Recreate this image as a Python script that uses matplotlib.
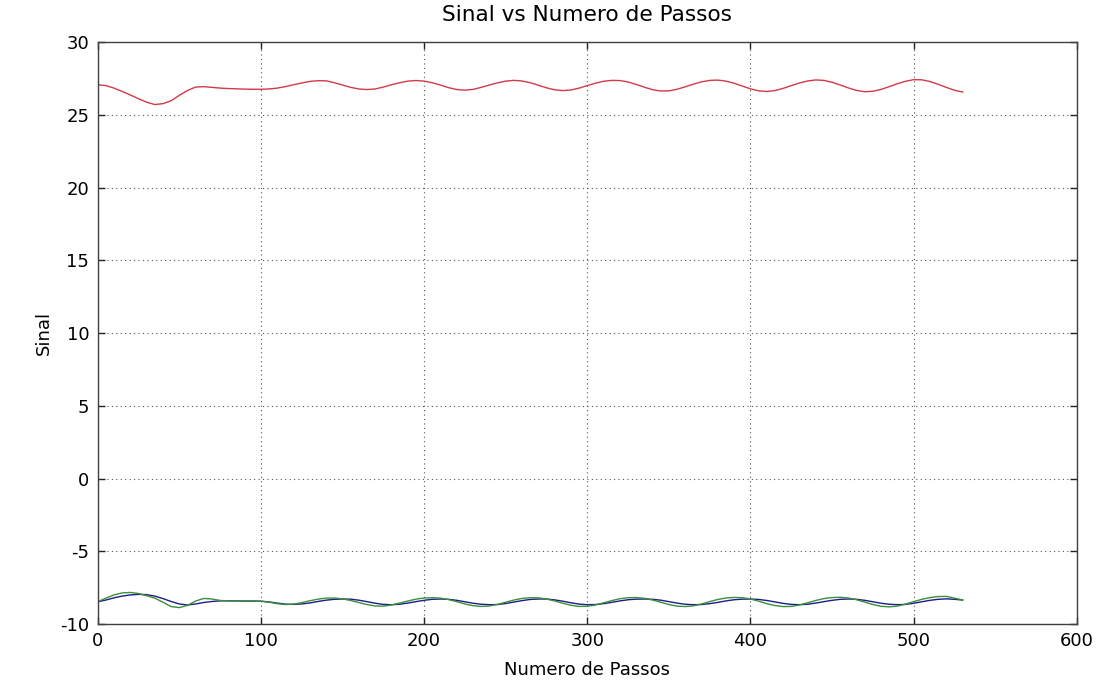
import numpy as np
import matplotlib
matplotlib.use("Agg")
import matplotlib.pyplot as plt

# Numero de Passos (sampled every 5 steps)
passos = list(range(0, 535, 5))

sinal_vermelho = [
    27.08, 27.02, 26.85, 26.62, 26.38, 26.12, 25.88, 25.72, 25.78, 25.98,
    26.35, 26.68, 26.92, 26.95, 26.90, 26.85, 26.82, 26.80, 26.78, 26.77,
    26.77, 26.79, 26.85, 26.95, 27.08, 27.20, 27.31, 27.36, 27.35, 27.22,
    27.06, 26.90, 26.79, 26.75, 26.79, 26.92, 27.08, 27.22, 27.33, 27.37,
    27.33, 27.22, 27.06, 26.88, 26.75, 26.71, 26.76, 26.90, 27.06, 27.21,
    27.33, 27.38, 27.34, 27.22, 27.05, 26.87, 26.73, 26.68, 26.72, 26.85,
    27.02, 27.19, 27.32, 27.38, 27.37, 27.27, 27.10, 26.91, 26.74, 26.65,
    26.66, 26.77, 26.94, 27.12, 27.28, 27.38, 27.40, 27.33, 27.18, 26.99,
    26.80, 26.66, 26.62, 26.68, 26.83, 27.02, 27.20, 27.34, 27.41, 27.38,
    27.25, 27.06, 26.86, 26.69, 26.60, 26.63, 26.76, 26.95, 27.15, 27.32,
    27.43, 27.42, 27.30, 27.11, 26.90, 26.70, 26.58,
]

sinal_azul = [
    -8.47, -8.35, -8.20, -8.08, -8.00, -7.96, -7.98, -8.08, -8.25, -8.45,
    -8.62, -8.69, -8.62, -8.52, -8.45, -8.41, -8.40, -8.41, -8.42, -8.42,
    -8.43, -8.48, -8.56, -8.63, -8.65, -8.62, -8.55, -8.45, -8.36, -8.30,
    -8.28, -8.29, -8.36, -8.46, -8.57, -8.65, -8.67, -8.64, -8.56, -8.46,
    -8.37, -8.30, -8.28, -8.30, -8.37, -8.47, -8.57, -8.64, -8.67, -8.66,
    -8.59, -8.49, -8.39, -8.31, -8.28, -8.28, -8.34, -8.43, -8.54, -8.63,
    -8.67, -8.66, -8.60, -8.51, -8.41, -8.33, -8.29, -8.28, -8.30, -8.36,
    -8.46, -8.56, -8.64, -8.67, -8.66, -8.60, -8.51, -8.41, -8.33, -8.29,
    -8.28, -8.31, -8.38, -8.48, -8.58, -8.65, -8.67, -8.64, -8.56, -8.46,
    -8.37, -8.30, -8.28, -8.30, -8.37, -8.47, -8.57, -8.64, -8.67, -8.65,
    -8.57, -8.47, -8.37, -8.30, -8.27, -8.30, -8.35,
]

sinal_verde = [
    -8.47, -8.22, -8.00, -7.86, -7.83, -7.90, -8.05, -8.22, -8.50, -8.80,
    -8.87, -8.72, -8.42, -8.24, -8.28, -8.38, -8.41, -8.41, -8.42, -8.42,
    -8.43, -8.50, -8.60, -8.66, -8.63, -8.53, -8.40, -8.29, -8.22, -8.21,
    -8.27, -8.38, -8.52, -8.66, -8.76, -8.77, -8.69, -8.56, -8.42, -8.29,
    -8.21, -8.19, -8.22, -8.32, -8.46, -8.62, -8.74, -8.79, -8.76, -8.65,
    -8.50, -8.35, -8.24, -8.19, -8.20, -8.28, -8.41, -8.57, -8.71, -8.79,
    -8.78, -8.69, -8.54, -8.39, -8.26, -8.19, -8.18, -8.23, -8.35, -8.50,
    -8.66, -8.77, -8.80, -8.75, -8.62, -8.46, -8.31, -8.21, -8.17, -8.19,
    -8.28, -8.43, -8.60, -8.73, -8.80, -8.79, -8.69, -8.54, -8.38, -8.25,
    -8.18, -8.16, -8.21, -8.33, -8.49, -8.66, -8.78, -8.82, -8.77, -8.63,
    -8.46, -8.30, -8.18, -8.11, -8.10, -8.22, -8.35,
]

x_ticks = [0, 100, 200, 300, 400, 500, 600]
y_ticks = [-10, -5, 0, 5, 10, 15, 20, 25, 30]

plt.rcParams['font.family'] = ['DejaVu Sans']
plt.rcParams['font.size'] = 13
plt.rcParams['axes.unicode_minus'] = False

fig = plt.figure(figsize=(11, 6.82), dpi=100)
ax = fig.add_axes([0.0888, 0.085, 0.8902, 0.853])

ax.plot(passos, sinal_azul, color='#1c1c8a', lw=1.0)
ax.plot(passos, sinal_verde, color='#3a8f3a', lw=1.0)
ax.plot(passos, sinal_vermelho, color='#d23a48', lw=1.0)

ax.set_xlim(0, 600)
ax.set_ylim(-10, 30)
ax.set_xticks(x_ticks)
ax.set_yticks(y_ticks)

ax.grid(True, linestyle=(0, (1, 3)), color='#555555', lw=0.8)
ax.tick_params(direction='in', length=5, width=1, top=True, right=True,
               pad=6, colors='#222222', labelcolor='black')
for s in ax.spines.values():
    s.set_color('#404040')
    s.set_linewidth(1.0)

ax.set_title('Sinal vs Numero de Passos', pad=15)
ax.set_xlabel('Numero de Passos', labelpad=8)
ax.set_ylabel('Sinal', labelpad=5)

fig.savefig('out.png', dpi=100)
